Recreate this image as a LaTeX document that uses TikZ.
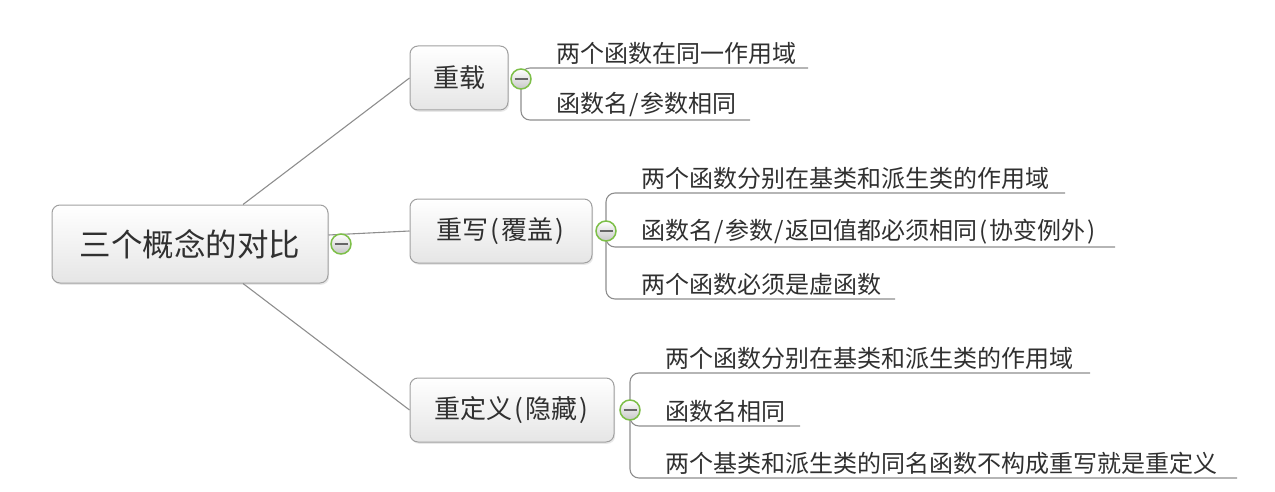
\documentclass[tikz,border=0pt]{standalone}
\usepackage{fontspec}
\setmainfont{Noto Sans CJK SC}
\usetikzlibrary{shadows}
\definecolor{txt}{HTML}{303030}
\definecolor{edge}{HTML}{8E8E8E}
\definecolor{ring}{HTML}{7DBF48}
\definecolor{boxline}{HTML}{A0A0A0}
\newcommand{\hw}[1]{\makebox[0.5em]{#1}}
\tikzset{
  topic/.style={draw=boxline, line width=1pt, rounded corners=8pt, top color=white, bottom color=black!10,
    drop shadow={opacity=0.18, shadow xshift=1.2pt, shadow yshift=-1.8pt},
    text=txt, inner sep=0pt, align=center},
  roottopic/.style={topic, minimum width=276pt, minimum height=78pt, font=\fontsize{31.5}{36}\selectfont},
  subtopic/.style={topic, minimum height=64pt, font=\fontsize{26}{30}\selectfont},
  collapse/.style={circle, draw=ring, line width=1.5pt, minimum size=20pt, inner sep=0pt,
    top color=white, bottom color=black!22,
    path picture={\draw[line width=1.3pt, draw=black!60] ([xshift=-6.5pt]path picture bounding box.center) -- ([xshift=6.5pt]path picture bounding box.center);}},
  leaf/.style={anchor=south west, inner xsep=0pt, inner ysep=3pt, text=txt, font=\fontsize{24}{28}\selectfont},
  conn/.style={draw=edge, line width=1.1pt},
  branch/.style={draw=edge, line width=1.1pt, rounded corners=9pt},
}
\begin{document}
\begin{tikzpicture}[x=1pt, y=-1pt]
\useasboundingbox (0,0) rectangle (1275,492);

% topics
\node[roottopic] (root) at (190,244) {三个概念的对比};
\node[subtopic, minimum width=98pt] (zz) at (459,78) {重载};
\node[subtopic, minimum width=182pt] (cw) at (501,231) {重写\hw{(}覆盖\hw{)}};
\node[subtopic, minimum width=204pt] (cd) at (512,410) {重定义\hw{(}隐藏\hw{)}};

% root connectors
\draw[conn] ([xshift=53pt]root.north) -- (zz.west);
\draw[conn] ([yshift=9pt]root.east) -- (cw.west);
\draw[conn] ([xshift=53pt]root.south) -- (cd.west);

% line end coordinates
\coordinate (e11) at (808,68);
\coordinate (e12) at (750,120);
\coordinate (e21) at (1065,193);
\coordinate (e22) at (1115,247);
\coordinate (e23) at (895,299);
\coordinate (e31) at (1090,373);
\coordinate (e32) at (800,426);
\coordinate (e33) at (1237,478);

% collapse marker positions
\coordinate (k1) at (521,79);
\coordinate (k2) at (606,231);
\coordinate (k3) at (630,410);

% branches
\draw[branch] (k1) |- (e11);
\draw[branch] (k1) |- (e12);
\draw[branch] (k2) |- (e21);
\draw[branch] (k2) |- (e22);
\draw[branch] (k2) |- (e23);
\draw[branch] (k3) |- (e31);
\draw[branch] (k3) |- (e32);
\draw[branch] (k3) |- (e33);

\node[collapse] (c0) at (341,244) {};
\node[collapse] (c1) at (k1) {};
\node[collapse] (c2) at (k2) {};
\node[collapse] (c3) at (k3) {};

% leaves
\node[leaf] (l11) at (556,68) {两个函数在同一作用域};
\node[leaf] (l12) at (556,120) {函数名\hw{/}参数相同};
\node[leaf] (l21) at (641,193) {两个函数分别在基类和派生类的作用域};
\node[leaf] (l22) at (641,247) {函数名\hw{/}参数\hw{/}返回值都必须相同\hw{(}协变例外\hw{)}};
\node[leaf] (l23) at (641,299) {两个函数必须是虚函数};
\node[leaf] (l31) at (665,373) {两个函数分别在基类和派生类的作用域};
\node[leaf] (l32) at (665,426) {函数名相同};
\node[leaf] (l33) at (665,478) {两个基类和派生类的同名函数不构成重写就是重定义};
\end{tikzpicture}
\end{document}
